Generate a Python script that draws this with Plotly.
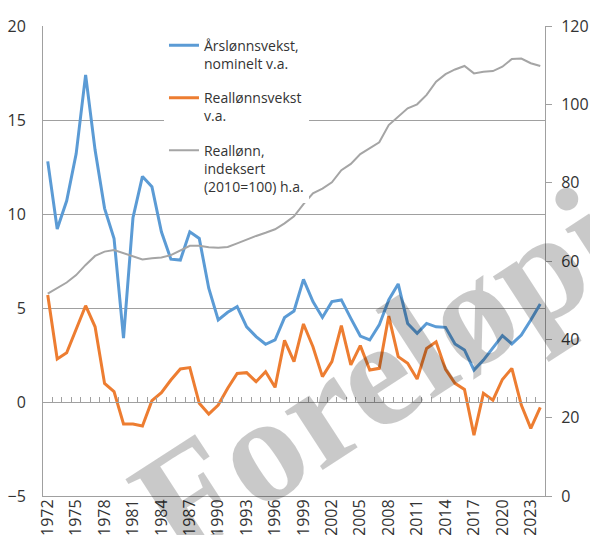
import plotly.graph_objects as go

years = list(range(1972, 2025))
year_labels = [str(y) for y in years]

nominal_growth = [12.8, 9.2, 10.7, 13.2, 17.4, 13.4, 10.3, 8.7, 3.4, 9.8,
                  12.0, 11.45, 9.05, 7.6, 7.55, 9.05, 8.7, 6.05, 4.36, 4.77,
                  5.07, 4.0, 3.48, 3.07, 3.3, 4.49, 4.84, 6.52, 5.34, 4.5,
                  5.34, 5.43, 4.45, 3.51, 3.3, 4.1, 5.43, 6.28, 4.18, 3.65,
                  4.18, 4.0, 3.97, 3.09, 2.77, 1.7, 2.23, 2.85, 3.53, 3.09,
                  3.56, 4.36, 5.21]

real_growth = [5.69, 2.29, 2.62, 3.92, 5.12, 4.0, 0.99, 0.55, -1.17, -1.17,
               -1.28, 0.07, 0.5, 1.17, 1.76, 1.83, -0.07, -0.64, -0.16, 0.73,
               1.52, 1.56, 1.08, 1.61, 0.78, 3.28, 2.15, 4.15, 2.94, 1.35,
               2.15, 4.06, 1.97, 3.0, 1.7, 1.79, 4.57, 2.41, 2.06, 1.22,
               2.85, 3.2, 1.74, 0.99, 0.67, -1.76, 0.46, 0.1, 1.2, 1.79,
               -0.16, -1.4, -0.28]

real_wage_index = [51.7, 53.0, 54.5, 56.4, 59.0, 61.3, 62.4, 62.8, 62.0, 61.1,
                   60.4, 60.7, 60.9, 61.5, 62.8, 63.9, 63.9, 63.5, 63.4, 63.6,
                   64.5, 65.5, 66.4, 67.2, 68.1, 69.6, 71.4, 74.5, 77.3, 78.5,
                   80.1, 83.2, 84.8, 87.3, 88.9, 90.3, 94.7, 96.8, 99.0, 100.0,
                   102.4, 105.8, 107.7, 108.9, 109.8, 107.9, 108.3, 108.5, 109.6, 111.6,
                   111.7, 110.5, 109.8]

names = ["Årslønnsvekst,<br>nominelt v.a.",
         "Reallønnsvekst<br>v.a.",
         "Reallønn,<br>indeksert<br>(2010=100) h.a."]
label_years = year_labels[::3]
left_ticks = [-5, 0, 5, 10, 15, 20]
right_ticks = [0, 20, 40, 60, 80, 100, 120]
watermark = "Foreløpig"

BLUE = "#5B9BD5"
ORANGE = "#ED7D31"
GREY = "#A5A5A5"
GRID = "#A0A0A0"
TXT = "#333333"
FONT = "Open Sans"

fig = go.Figure()
fig.add_trace(go.Scatter(x=year_labels, y=nominal_growth, name=names[0], mode="lines",
                         line=dict(color=BLUE, width=3), legendgroup="a"))
fig.add_trace(go.Scatter(x=year_labels, y=real_growth, name=names[1], mode="lines",
                         line=dict(color=ORANGE, width=3), legendgroup="b"))
fig.add_trace(go.Scatter(x=year_labels, y=real_wage_index, name=names[2], mode="lines",
                         line=dict(color=GREY, width=2), yaxis="y2", legendgroup="c"))
# invisible helper trace to render the axis crossing at zero
fig.add_trace(go.Scatter(x=year_labels, y=real_growth, mode="lines", xaxis="x2",
                         line=dict(width=0), opacity=0, showlegend=False, hoverinfo="skip"))

fig.update_layout(
    width=590, height=535,
    margin=dict(l=43, r=45, t=26, b=39, autoexpand=False),
    paper_bgcolor="white", plot_bgcolor="white",
    font=dict(family=FONT, size=16, color=TXT),
    showlegend=True,
    legend=dict(x=0.241, y=0.992, xanchor="left", yanchor="top",
                bgcolor="white", borderwidth=0, valign="top",
                tracegroupgap=13, font=dict(size=14, color=TXT, family=FONT)),
    xaxis=dict(type="category", categoryorder="array", categoryarray=year_labels,
               range=[-0.5, len(years) - 0.5], automargin=False,
               tickmode="array", tickvals=label_years, ticktext=label_years,
               tickangle=-90, ticks="", showgrid=False,
               showline=True, linecolor=GRID, linewidth=1,
               tickfont=dict(size=16, color=TXT), ticklabelstandoff=-4),
    xaxis2=dict(type="category", categoryorder="array", categoryarray=year_labels,
                range=[-0.5, len(years) - 0.5], overlaying="x", anchor="free",
                position=0.2, side="bottom", showticklabels=False, automargin=False,
                tickmode="linear", dtick=1, tickson="boundaries",
                ticks="inside", ticklen=5, tickcolor=GRID, tickwidth=1,
                showline=True, linecolor=GRID, linewidth=1, showgrid=False),
    yaxis=dict(range=[-5, 20], tickvals=left_ticks, showgrid=True, automargin=False,
               gridcolor=GRID, gridwidth=1, zeroline=False,
               showline=True, linecolor=GRID, linewidth=1, ticks="",
               tickfont=dict(size=16, color=TXT), ticklabelstandoff=13),
    yaxis2=dict(range=[0, 120], tickvals=right_ticks, overlaying="y", side="right",
                showgrid=False, zeroline=False, showline=True, linecolor=GRID,
                linewidth=1, ticks="outside", ticklen=6, tickcolor=GRID, automargin=False,
                tickfont=dict(size=16, color=TXT), ticklabelstandoff=6),
)

fig.add_annotation(text=watermark, xref="paper", yref="paper", x=0.733, y=0.305,
                   xanchor="center", yanchor="middle", showarrow=False,
                   textangle=-33,
                   font=dict(family="Liberation Serif", size=152, weight="bold",
                             color="rgba(0,0,0,0.21)"))

# remove the default page margin so the 590x535 figure fills the window exactly
fig.write_html("out.html", config={"displayModeBar": False},
               post_script="document.body.style.margin='0';document.body.style.overflow='hidden';")
